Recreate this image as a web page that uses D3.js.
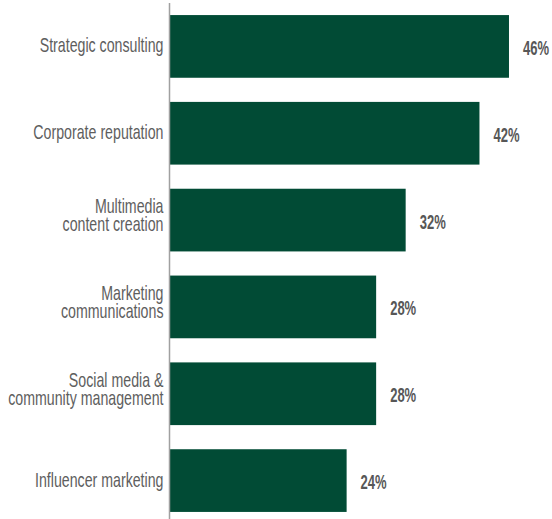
<!DOCTYPE html>
<html>
<head>
<meta charset="utf-8">
<script src="https://cdn.jsdelivr.net/npm/d3@7"></script>
<style>
  html, body { margin: 0; padding: 0; background: #ffffff; }
  svg { display: block; }
</style>
</head>
<body>
<svg id="chart" width="552" height="519"></svg>
<script>
// Service categories (lines split where the label wraps) and their shares in percent
const categories = [
  ["Strategic consulting"],
  ["Corporate reputation"],
  ["Multimedia", "content creation"],
  ["Marketing", "communications"],
  ["Social media &", "community management"],
  ["Influencer marketing"]
];
const values = [46, 42, 32, 28, 28, 24];
const valueLabels = ["46%", "42%", "32%", "28%", "28%", "24%"];

const W = 552, H = 519;
const axisX = 169.5;
const barColor = "#014b35";
const fontFamily = "'Liberation Sans', Arial, sans-serif";

const svg = d3.select("#chart");

const keys = categories.map(c => c.join(" "));

const x = d3.scaleLinear().domain([0, 50]).range([axisX, axisX + 369]);
const y = d3.scaleBand()
  .domain(keys)
  .range([3, 524])
  .paddingInner(0.278)
  .paddingOuter(0.139);

// Bars
svg.append("g")
  .selectAll("rect")
  .data(values)
  .join("rect")
  .attr("x", x(0))
  .attr("y", (d, i) => y(keys[i]))
  .attr("width", d => x(d) - x(0))
  .attr("height", y.bandwidth())
  .attr("fill", barColor);

// Vertical baseline axis on the left of the bars
svg.append("line")
  .attr("x1", axisX).attr("x2", axisX)
  .attr("y1", 3).attr("y2", H)
  .attr("stroke", "#a0a0a0")
  .attr("stroke-width", 1.5);

// Category labels, right aligned, horizontally condensed
const labelRight = 163.5;
const labelScale = 0.71;
const lineGap = 18;
const catG = svg.append("g");
categories.forEach((lines, i) => {
  const cy = y(keys[i]) + y.bandwidth() / 2;
  const first = lines.length === 1 ? cy + 6 : cy - 7;
  const t = catG.append("text")
    .attr("transform", `translate(${labelRight},${first}) scale(${labelScale},1)`)
    .attr("text-anchor", "end")
    .attr("font-family", fontFamily)
    .attr("font-size", 20)
    .attr("fill", "#5e5e5e");
  lines.forEach((ln, j) => {
    t.append("tspan").attr("x", 0).attr("y", j * lineGap).text(ln);
  });
});

// Value labels to the right of each bar
const valScale = 0.62;
svg.append("g")
  .selectAll("text")
  .data(values)
  .join("text")
  .attr("transform", (d, i) => `translate(${x(d) + 14},${y(keys[i]) + y.bandwidth() / 2 + 8.5}) scale(${valScale},1)`)
  .attr("font-family", fontFamily)
  .attr("font-weight", "bold")
  .attr("font-size", 21)
  .attr("fill", "#575757")
  .text((d, i) => valueLabels[i]);
</script>
</body>
</html>
